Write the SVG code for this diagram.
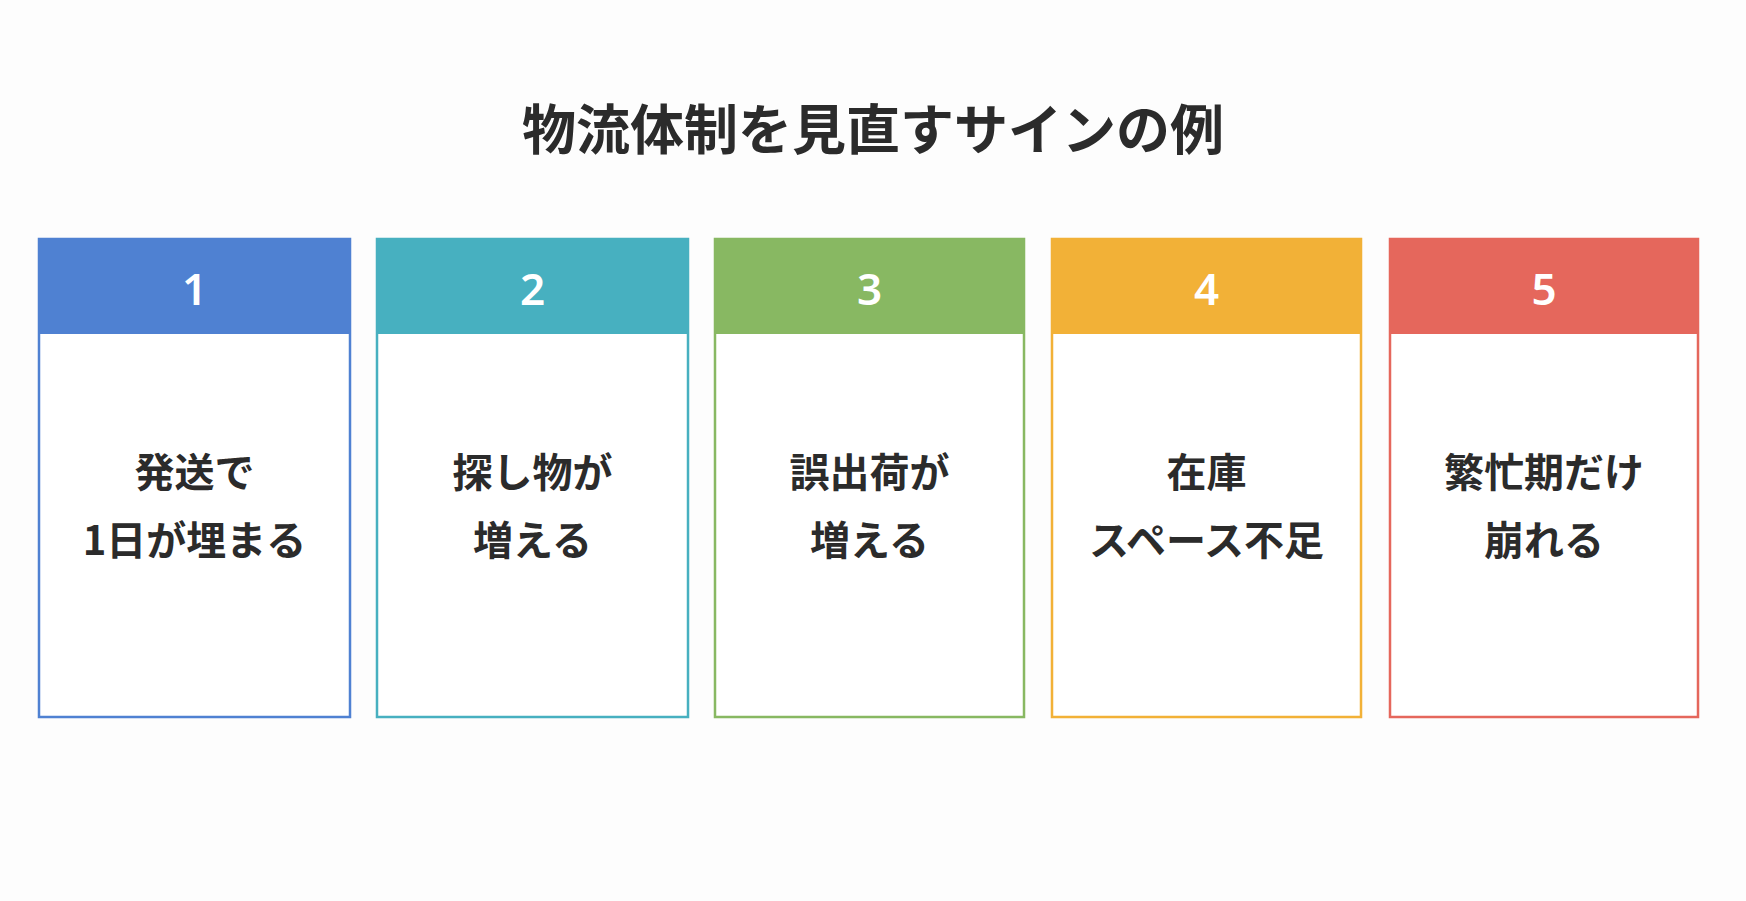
<svg xmlns="http://www.w3.org/2000/svg" width="1746" height="901" viewBox="0 0 1746 901">
<style>
.t{font-family:"Noto Sans CJK JP","Noto Sans",sans-serif;font-weight:700;text-anchor:middle}
.title{font-size:54px;fill:#2b2b2b}
.num{font-size:44px;fill:#fff;font-family:"Noto Sans",sans-serif;font-weight:600}
.body{font-size:40px;fill:#2b2b2b;font-weight:600}
.box{fill:#fff;stroke-width:2.5}
</style>
<rect width="1746" height="901" fill="#fdfdfd"/>
<text class="t title" x="873" y="150">物流体制を見直すサインの例</text>
<g id="card1"><rect class="box" x="39" y="239" width="311" height="478" stroke="#4F81D2"/><rect x="39" y="239" width="311" height="95" fill="#4F81D2"/><text class="t num" x="194.5" y="305">1</text><text class="t body" x="194.5" y="487">発送で</text><text class="t body" x="194.5" y="555">1日が埋まる</text></g>
<g id="card2"><rect class="box" x="377" y="239" width="311" height="478" stroke="#47B0C0"/><rect x="377" y="239" width="311" height="95" fill="#47B0C0"/><text class="t num" x="532.5" y="305">2</text><text class="t body" x="532.5" y="487">探し物が</text><text class="t body" x="532.5" y="555">増える</text></g>
<g id="card3"><rect class="box" x="715" y="239" width="309" height="478" stroke="#88B862"/><rect x="715" y="239" width="309" height="95" fill="#88B862"/><text class="t num" x="869.5" y="305">3</text><text class="t body" x="869.5" y="487">誤出荷が</text><text class="t body" x="869.5" y="555">増える</text></g>
<g id="card4"><rect class="box" x="1052" y="239" width="309" height="478" stroke="#F2B137"/><rect x="1052" y="239" width="309" height="95" fill="#F2B137"/><text class="t num" x="1206.5" y="305">4</text><text class="t body" x="1206.5" y="487">在庫</text><text class="t body" x="1206.5" y="555">スペース不足</text></g>
<g id="card5"><rect class="box" x="1390" y="239" width="308" height="478" stroke="#E5675C"/><rect x="1390" y="239" width="308" height="95" fill="#E5675C"/><text class="t num" x="1544" y="305">5</text><text class="t body" x="1544" y="487">繁忙期だけ</text><text class="t body" x="1544" y="555">崩れる</text></g>
<g id="connectors"/>
</svg>
